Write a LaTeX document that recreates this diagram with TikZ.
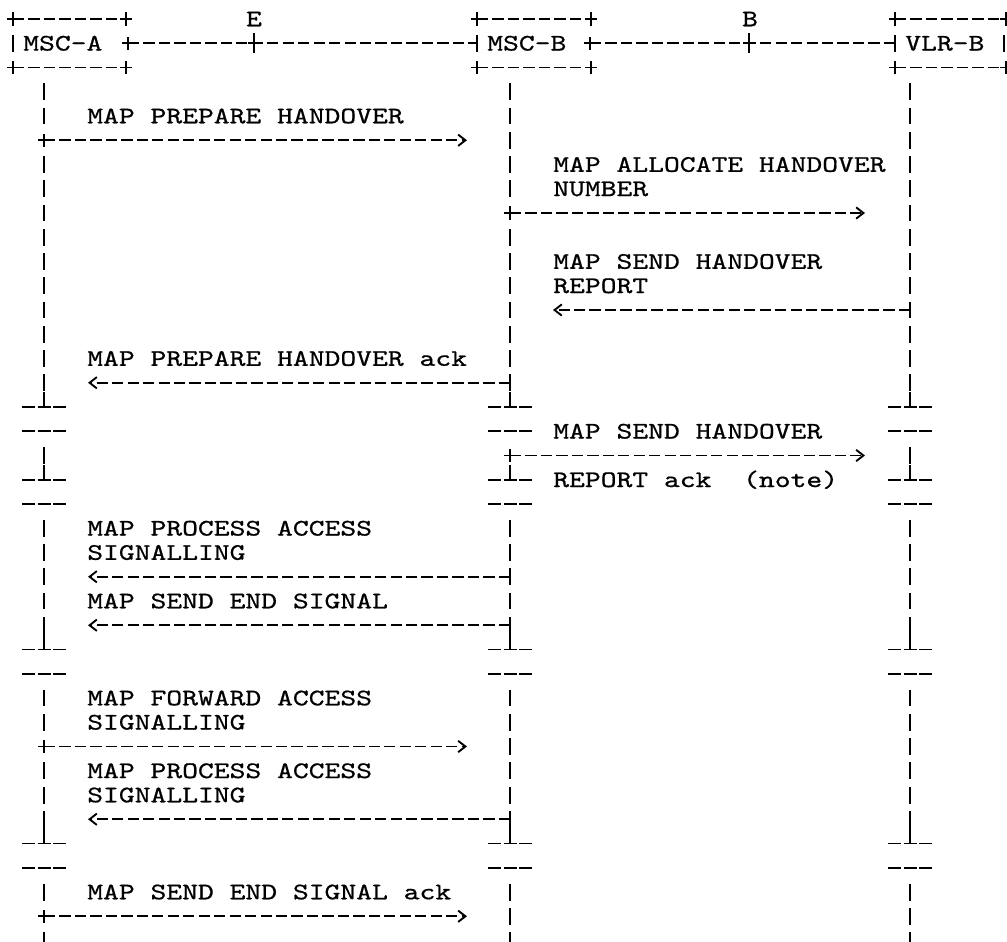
\documentclass[tikz,border=0pt]{standalone}
\usepackage{fontspec}
\usetikzlibrary{arrows.meta}
\newfontfamily\ascfont{lmmono10-regular}[Extension=.otf, FakeStretch=1.27, FakeBold=0.7]
\newcommand{\AscF}{\ascfont\fontsize{17.8}{20}\selectfont}
\tikzset{
  hline/.style={line width=1.4pt, dash pattern=on 8.4pt off 3.2pt},
  pipe/.style={line width=1.4pt},
  msg/.style={hline, -{Straight Barb[length=5.5pt,width=8.5pt]}},
  lbl/.style={anchor=base west, inner sep=0pt, font=\AscF},
}
% small cross where a line starts
\newcommand{\plusat}[1]{%
  \draw[pipe] ([xshift=-4.5pt]#1) -- ([xshift=4.5pt]#1)
              ([yshift=-4.9pt]#1) -- ([yshift=4.9pt]#1);
}
% one bar per row of a lifeline
\newcommand{\lifeline}[2]{%
  \foreach \r in {#2} \draw[pipe] (#1,\r-0.35) -- (#1,\r+0.35);
}
% break mark: _|_ on one row, --- on the next
\newcommand{\brk}[2]{%
  \draw[pipe] (#1,#2-0.62) -- (#1,#2);
  \foreach \d in {-15.5,0,15.5} {
    \draw[pipe] (#1+\d-6.5,#2) -- (#1+\d+6.5,#2);
    \draw[pipe] (#1+\d-6.5,#2+1) -- (#1+\d+6.5,#2+1);
  }
}
% entity box: left x, right x, name, label
\newcommand{\entity}[4]{%
  \draw[hline] (#1,0) -- (#2,0);
  \draw[hline] (#1,2) -- (#2,2);
  \coordinate (#3tl) at (#1,0);
  \coordinate (#3tr) at (#2,0);
  \coordinate (#3bl) at (#1,2);
  \coordinate (#3br) at (#2,2);
  \plusat{#3tl} \plusat{#3tr} \plusat{#3bl} \plusat{#3br}
  \draw[pipe] (#1,0.65) -- (#1,1.35);
  \node[lbl] (#3) at (#1+10,1.3) {#4};
}

\begin{document}
\begin{tikzpicture}[x=0.75pt, y=-18.1875pt]
\useasboundingbox (0,-0.7835) rectangle (1007,38.06);

\foreach \r in {0,...,38} {
  \coordinate (A\r) at (44,\r);
  \coordinate (B\r) at (510,\r);
  \coordinate (V\r) at (910,\r);
}

% entities and the interfaces between them
\entity{13}{126}{mscA}{MSC-A}
\entity{477}{591}{mscB}{MSC-B}
\entity{895}{1006}{vlrB}{VLR-B}
\draw[pipe] (1004,0.65) -- (1004,1.35);
\coordinate (mscAo) at (128,1);
\coordinate (mscBi) at (477,1);
\coordinate (mscBo) at (590,1);
\coordinate (vlrBi) at (895,1);
\coordinate (ifE) at (254,1);
\coordinate (ifB) at (749,1);
\draw[hline] (mscAo) -- (ifE) -- (mscBi);
\draw[hline] (mscBo) -- (ifB) -- (vlrBi);
\plusat{mscAo} \plusat{mscBo}
\draw[pipe] (254,0.58) -- (254,1.42) (248,1) -- (260,1);
\draw[pipe] (749,0.58) -- (749,1.42) (743,1) -- (755,1);
\node[lbl, anchor=base] (E) at (254,0.3) {E};
\node[lbl, anchor=base] (B) at (750,0.3) {B};

% lifelines
\lifeline{44}{3,4,6,7,...,15,18,21,22,...,25,28,29,31,32,33,36,38}
\lifeline{510}{3,4,...,7,9,10,...,15,21,22,...,25,28,29,...,33,36,37,38}
\lifeline{910}{3,4,...,15,18,21,22,...,25,28,29,...,33,36,37,38}
\foreach \r in {16,19,26,34} {
  \brk{44}{\r} \brk{510}{\r} \brk{910}{\r}
}

% message ends
\coordinate (t5) at (467,5);
\coordinate (t8) at (865,8);
\coordinate (t12) at (553,12);
\coordinate (t15) at (88,15);
\coordinate (t18) at (865,18);
\coordinate (t23) at (88,23);
\coordinate (t25) at (88,25);
\coordinate (t30) at (467,30);
\coordinate (t33) at (88,33);
\coordinate (t37) at (467,37);

% messages
\node[lbl] (m4) at (87,4.3) {MAP PREPARE HANDOVER};
\plusat{A5} \draw[msg] (A5) -- (t5);
\node[lbl] (m6) at (553,6.3) {MAP ALLOCATE HANDOVER};
\node[lbl] (m7) at (553,7.3) {NUMBER};
\plusat{B8} \draw[msg] (B8) -- (t8);
\node[lbl] (m10) at (553,10.3) {MAP SEND HANDOVER};
\node[lbl] (m11) at (553,11.3) {REPORT};
\draw[msg] (V12) -- (t12);
\node[lbl] (m14) at (87,14.3) {MAP PREPARE HANDOVER ack};
\draw[msg] (B15) -- (t15);
\node[lbl] (m17) at (553,17.3) {MAP SEND HANDOVER};
\plusat{B18} \draw[msg] (B18) -- (t18);
\node[lbl] (m19) at (553,19.3) {REPORT ack\ \ (note)};
\node[lbl] (m21) at (87,21.3) {MAP PROCESS ACCESS};
\node[lbl] (m22) at (87,22.3) {SIGNALLING};
\draw[msg] (B23) -- (t23);
\node[lbl] (m24) at (87,24.3) {MAP SEND END SIGNAL};
\draw[msg] (B25) -- (t25);
\node[lbl] (m28) at (87,28.3) {MAP FORWARD ACCESS};
\node[lbl] (m29) at (87,29.3) {SIGNALLING};
\plusat{A30} \draw[msg] (A30) -- (t30);
\node[lbl] (m31) at (87,31.3) {MAP PROCESS ACCESS};
\node[lbl] (m32) at (87,32.3) {SIGNALLING};
\draw[msg] (B33) -- (t33);
\node[lbl] (m36) at (87,36.3) {MAP SEND END SIGNAL ack};
\plusat{A37} \draw[msg] (A37) -- (t37);
\end{tikzpicture}
\end{document}
